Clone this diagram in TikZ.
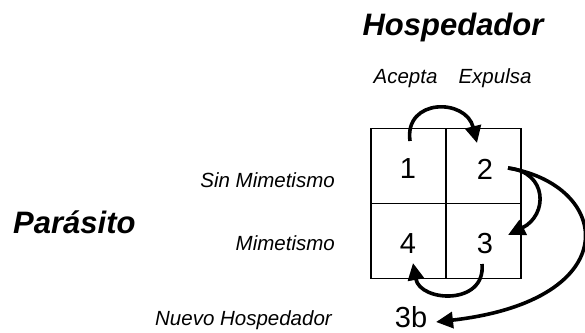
\documentclass[tikz,border=0pt]{standalone}
\usepackage{fontspec}
\setmainfont{Liberation Sans}
\usetikzlibrary{arrows.meta}
\begin{document}
\begin{tikzpicture}[x=1pt,y=-1pt,
  grid/.style={draw=black,line width=1.7pt},
  num/.style={font=\fontsize{29}{29}\selectfont,inner sep=0pt,anchor=base},
  lab/.style={font=\fontsize{20.5}{21}\selectfont\itshape,inner sep=0pt},
  head/.style={font=\fontsize{31}{31}\selectfont\bfseries\itshape,inner sep=0pt},
  arr/.style={line width=3.6pt,-{Triangle[length=17pt,width=16pt]}}]
\useasboundingbox (0,0) rectangle (585,332);
% grid cells
\node[grid,minimum size=75pt,inner sep=0pt] (c1) at (408.5,166) {};
\node[grid,minimum size=75pt,inner sep=0pt] (c2) at (483.5,166) {};
\node[grid,minimum size=75pt,inner sep=0pt] (c4) at (408.5,241) {};
\node[grid,minimum size=75pt,inner sep=0pt] (c3) at (483.5,241) {};
% numbers
\node[num] (n1) at (408,178) {1};
\node[num] (n2) at (485,179) {2};
\node[num] (n4) at (408,253) {4};
\node[num] (n3) at (485,253) {3};
\node[num] (n3b) at (411,327) {3b};
% labels
\node[head,anchor=base] (hosp) at (453,35) {Hospedador};
\node[head,anchor=base west] (para) at (13,233) {Parásito};
\node[lab,anchor=base] (acep) at (405.5,83) {Acepta};
\node[lab,anchor=base] (expu) at (495,83) {Expulsa};
\node[lab,anchor=base east] (sinm) at (335,187) {Sin Mimetismo};
\node[lab,anchor=base east] (mime) at (335,250) {Mimetismo};
\node[lab,anchor=base east] (nuev) at (332,325) {Nuevo Hospedador};
% arrow endpoints
\coordinate (a1) at (410,141);
\coordinate (b2) at (477,143);
\coordinate (a2) at (508,168);
\coordinate (b3) at (508,235);
\coordinate (a3) at (482,264);
\coordinate (b4) at (413,263);
\coordinate (b3b) at (436,322);
% arrows
\draw[arr] (a1) .. controls (404,98) and (466,98) .. (b2);
\draw[arr] (a2) .. controls (548,172) and (548,215) .. (b3);
\draw[arr] (a2) .. controls (612,185) and (628,300) .. (b3b);
\draw[arr] (a3) .. controls (486,306) and (420,302) .. (b4);
\end{tikzpicture}
\end{document}
